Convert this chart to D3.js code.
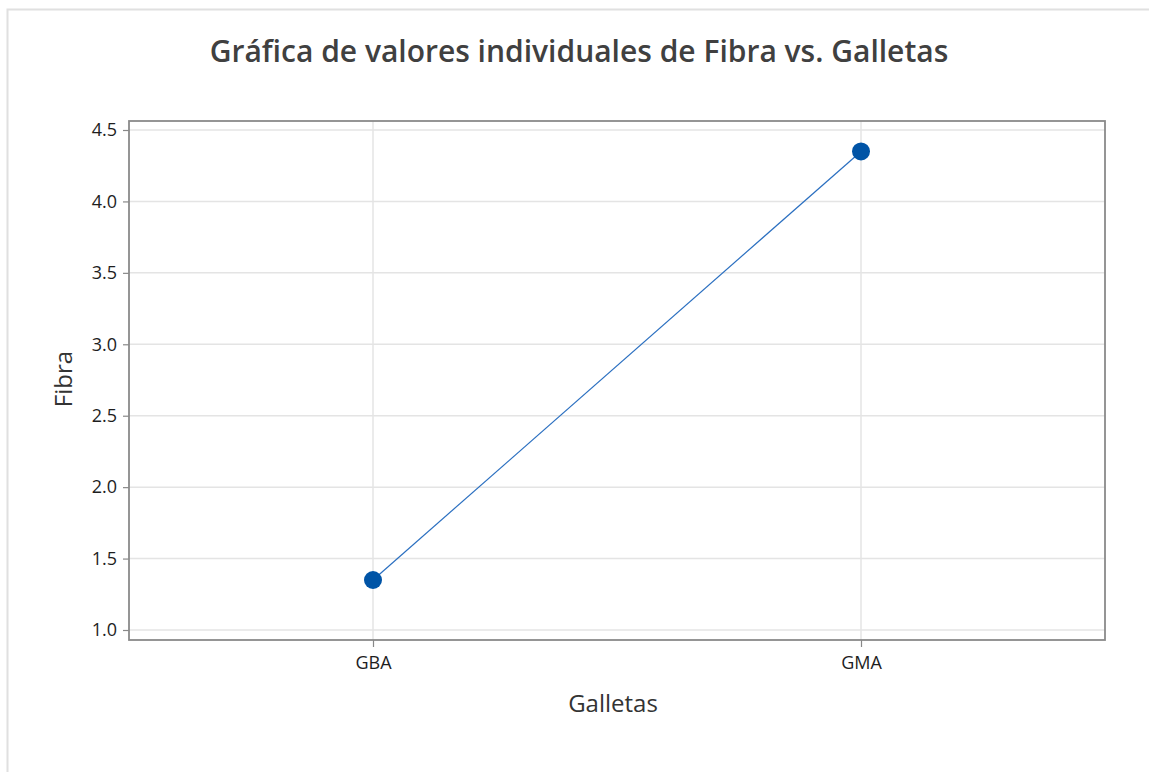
<!DOCTYPE html>
<html>
<head>
<meta charset="utf-8">
<script src="https://cdn.jsdelivr.net/npm/d3@7"></script>
<style>
  html, body { margin: 0; padding: 0; background: #fff; }
  svg { display: block; }
</style>
</head>
<body>
<svg id="chart" width="1149" height="772"></svg>
<script>
const categories = ["GBA", "GMA"];
const fibraValues = [1.35, 4.35];
const yTicks = [1.0, 1.5, 2.0, 2.5, 3.0, 3.5, 4.0, 4.5];
const titleText = "Gráfica de valores individuales de Fibra vs. Galletas";
const xLabel = "Galletas";
const yLabel = "Fibra";

const svg = d3.select("#chart");
const font = "'Open Sans', 'Noto Sans', sans-serif";
const pLeft = 129, pRight = 1105, pTop = 121, pBottom = 640;

// outer light frame
svg.append("rect").attr("x", 7.5).attr("y", 9.5).attr("width", 1200).attr("height", 900)
  .attr("fill", "none").attr("stroke", "#e0e0e0").attr("stroke-width", 2);

const x = d3.scalePoint().domain(categories).range([pLeft, pRight]).padding(0.5);
const y = d3.scaleLinear().domain([0.93, 4.563]).range([pBottom, pTop]);

// gridlines
svg.append("g").selectAll("line").data(yTicks).join("line")
  .attr("x1", pLeft).attr("x2", pRight)
  .attr("y1", d => y(d)).attr("y2", d => y(d))
  .attr("stroke", "#e4e4e4").attr("stroke-width", 1.5);
svg.append("g").selectAll("line").data(categories).join("line")
  .attr("x1", d => x(d)).attr("x2", d => x(d))
  .attr("y1", pTop).attr("y2", pBottom)
  .attr("stroke", "#e4e4e4").attr("stroke-width", 1.5);

// axes
const yAxis = svg.append("g").attr("transform", `translate(${pLeft},0)`)
  .call(d3.axisLeft(y).tickValues(yTicks).tickFormat(d3.format(".1f")).tickSize(6).tickPadding(6));
const xAxis = svg.append("g").attr("transform", `translate(0,${pBottom})`)
  .call(d3.axisBottom(x).tickSize(7).tickPadding(9));
[yAxis, xAxis].forEach(g => {
  g.attr("font-size", null).attr("font-family", null);
  g.select(".domain").remove();
  g.selectAll(".tick line").attr("stroke", "#888").attr("stroke-width", 1.2);
  g.selectAll("text").attr("fill", "#1e1e1e")
    .attr("font-family", font).attr("font-size", 18).attr("font-weight", 500);
});

// frame
svg.append("rect").attr("x", pLeft).attr("y", pTop).attr("width", pRight - pLeft).attr("height", pBottom - pTop)
  .attr("fill", "none").attr("stroke", "#8a8a8a").attr("stroke-width", 1.8);

// line
const pts = categories.map((c, i) => [x(c), y(fibraValues[i])]);
svg.append("path").attr("d", d3.line()(pts)).attr("fill", "none")
  .attr("stroke", "#2a6fc0").attr("stroke-width", 1.2);

// points
svg.append("g").selectAll("path").data(pts).join("path")
  .attr("transform", d => `translate(${d[0]},${d[1]})`)
  .attr("d", d3.symbol().type(d3.symbolCircle).size(Math.PI * 9 * 9))
  .attr("fill", "#0054a6");

// title
svg.append("text").attr("x", 579).attr("y", 62).attr("text-anchor", "middle")
  .attr("font-family", font).attr("font-weight", 600).attr("font-size", 30)
  .attr("fill", "#404040").text(titleText);

// axis labels
svg.append("text").attr("x", 613).attr("y", 712).attr("text-anchor", "middle")
  .attr("font-family", font).attr("font-size", 24).attr("fill", "#333").text(xLabel);
svg.append("text").attr("transform", "translate(72,379) rotate(-90)").attr("text-anchor", "middle")
  .attr("font-family", font).attr("font-size", 24).attr("fill", "#333").text(yLabel);
</script>
</body>
</html>
